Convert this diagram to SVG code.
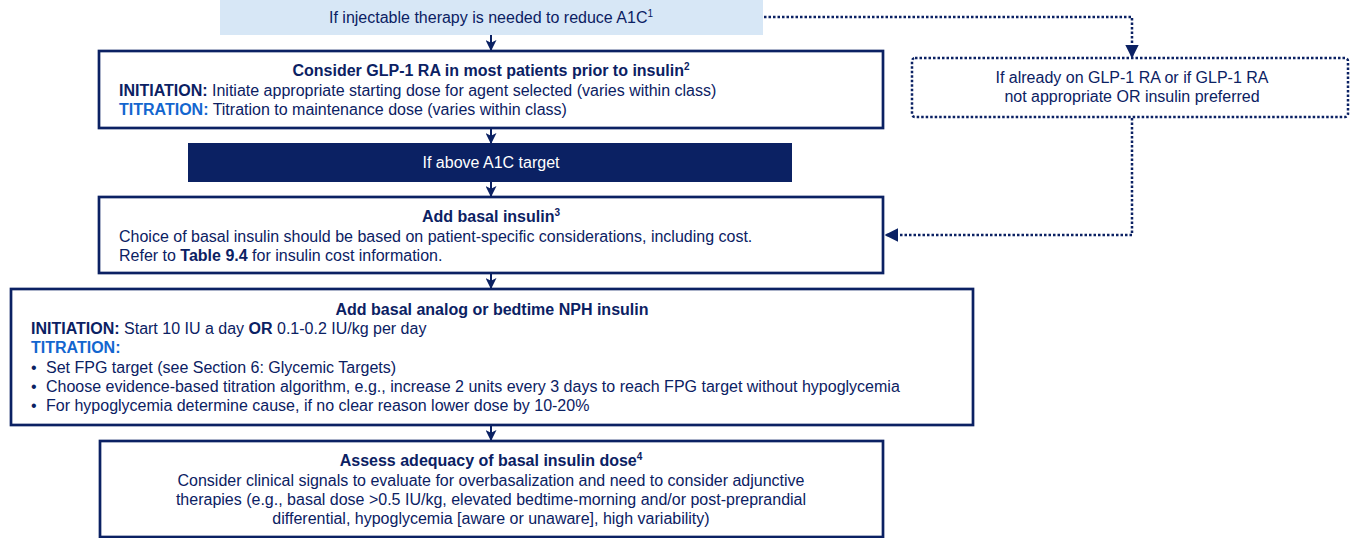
<svg xmlns="http://www.w3.org/2000/svg" width="1350" height="538" viewBox="0 0 1350 538">
  <style>
    text { font-family: "Liberation Sans", Arial, sans-serif; font-size: 16px; fill: #0b2163; }
    .b { font-weight: bold; }
    .t { font-weight: bold; fill: #1366cf; }
    .c { text-anchor: middle; }
    .w { fill: #ffffff; }
    .sup { font-size: 10px; }
    .box { fill: #ffffff; stroke: #0b2163; stroke-width: 2.7; }
    .dotbox { fill: #ffffff; stroke: #0b2163; stroke-width: 2.5; stroke-dasharray: 2.5 2; }
    .arrow { fill: none; stroke: #0b2163; stroke-width: 2; marker-end: url(#head); }
    .dotted { fill: none; stroke: #0b2163; stroke-width: 2.5; stroke-dasharray: 2.5 2; marker-end: url(#head2); }
  </style>
  <defs>
    <marker id="head" viewBox="0 0 10 10" refX="9" refY="5" markerWidth="5.5" markerHeight="5.5" orient="auto" markerUnits="strokeWidth">
      <path d="M0,0 L10,5 L0,10 L2.5,5 z" fill="#0b2163"/>
    </marker>
    <marker id="head2" viewBox="0 0 10 10" refX="9" refY="5" markerWidth="5.5" markerHeight="5.5" orient="auto" markerUnits="strokeWidth">
      <path d="M0,0 L10,5 L0,10 z" fill="#0b2163"/>
    </marker>
  </defs>

  <!-- connectors -->
  <g id="connectors">
    <path class="arrow" d="M491,35 V50"/>
    <path class="arrow" d="M491,128 V143"/>
    <path class="arrow" d="M491,182 V196"/>
    <path class="arrow" d="M491,273 V288"/>
    <path class="arrow" d="M491,425 V440"/>
    <path class="dotted" d="M764,17 H1132 V57"/>
    <path class="dotted" d="M1132,118 V235 H886"/>
  </g>

  <!-- start condition -->
  <g id="start">
    <rect x="220" y="0" width="543" height="35" fill="#d7e7f6"/>
    <text class="c" x="491" y="23">If injectable therapy is needed to reduce A1C<tspan class="sup" dy="-6">1</tspan></text>
  </g>

  <!-- GLP-1 RA step -->
  <g id="glp1">
    <rect class="box" x="99" y="51" width="784" height="77"/>
    <text class="b c" x="491" y="76">Consider GLP-1 RA in most patients prior to insulin<tspan class="sup" dy="-6">2</tspan></text>
    <text x="119" y="96"><tspan class="b">INITIATION:</tspan> Initiate appropriate starting dose for agent selected (varies within class)</text>
    <text x="119" y="115"><tspan class="t">TITRATION:</tspan> Titration to maintenance dose (varies within class)</text>
  </g>

  <!-- alternative path -->
  <g id="alternative">
    <rect class="dotbox" x="912" y="58" width="436" height="59" rx="3"/>
    <text class="c" x="1132" y="83">If already on GLP-1 RA or if GLP-1 RA</text>
    <text class="c" x="1132" y="102">not appropriate OR insulin preferred</text>
  </g>

  <!-- A1C check -->
  <g id="above-target">
    <rect x="188" y="143" width="604" height="39" fill="#0b2163"/>
    <text class="c w" x="491" y="168">If above A1C target</text>
  </g>

  <!-- basal insulin -->
  <g id="basal">
    <rect class="box" x="99" y="197" width="784" height="76"/>
    <text class="b c" x="491" y="222">Add basal insulin<tspan class="sup" dy="-6">3</tspan></text>
    <text x="119" y="242">Choice of basal insulin should be based on patient-specific considerations, including cost.</text>
    <text x="119" y="261">Refer to <tspan class="b">Table 9.4</tspan> for insulin cost information.</text>
  </g>

  <!-- basal analog / NPH -->
  <g id="basal-analog">
    <rect class="box" x="11" y="289" width="962" height="136"/>
    <text class="b c" x="492" y="315">Add basal analog or bedtime NPH insulin</text>
    <text x="31" y="334"><tspan class="b">INITIATION:</tspan> Start 10 IU a day <tspan class="b">OR</tspan> 0.1-0.2 IU/kg per day</text>
    <text class="t" x="31" y="353">TITRATION:</text>
    <text x="31" y="373">•</text>
    <text x="46" y="373">Set FPG target (see Section 6: Glycemic Targets)</text>
    <text x="31" y="392">•</text>
    <text x="46" y="392">Choose evidence-based titration algorithm, e.g., increase 2 units every 3 days to reach FPG target without hypoglycemia</text>
    <text x="31" y="411">•</text>
    <text x="46" y="411">For hypoglycemia determine cause, if no clear reason lower dose by 10-20%</text>
  </g>

  <!-- dose adequacy -->
  <g id="adequacy">
    <rect class="box" x="100" y="441" width="783" height="96"/>
    <text class="b c" x="491" y="466">Assess adequacy of basal insulin dose<tspan class="sup" dy="-6">4</tspan></text>
    <text class="c" x="491" y="486">Consider clinical signals to evaluate for overbasalization and need to consider adjunctive</text>
    <text class="c" x="491" y="505">therapies (e.g., basal dose &gt;0.5 IU/kg, elevated bedtime-morning and/or post-preprandial</text>
    <text class="c" x="491" y="524">differential, hypoglycemia [aware or unaware], high variability)</text>
  </g>
</svg>
